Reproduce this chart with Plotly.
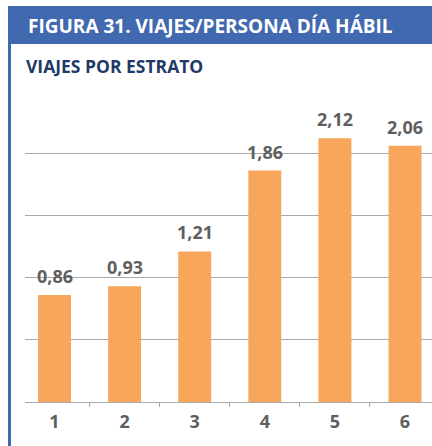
import plotly.graph_objects as go

# Trips per person on a working day, by socio-economic stratum
estratos = ["1", "2", "3", "4", "5", "6"]
viajes = [0.86, 0.93, 1.21, 1.86, 2.12, 2.06]
etiquetas = ["0,86", "0,93", "1,21", "1,86", "2,12", "2,06"]

W, H = 432, 446
ML, MR, MT, MB = 25, 0, 91, 44
PW, PH = W - ML - MR, H - MT - MB

BLUE = "#4169b0"
NAVY = "#1f3a68"
ORANGE = "#f7a65b"
GRAY_TXT = "#5f5f5f"
GRID = "#a9a9a9"
FONT = "Open Sans"


def px_x(px):
    return (px - ML) / PW


def px_y(py):
    return (H - MB - py) / PH


pos = list(range(len(estratos)))

fig = go.Figure(
    go.Bar(
        x=pos,
        y=viajes,
        width=0.47,
        marker=dict(color=ORANGE, line=dict(width=0)),
        hoverinfo="skip",
    )
)

# value labels above each bar
value_labels = [
    dict(x=p, y=v, text=t, xref="x", yref="y", xanchor="center",
         yanchor="bottom", yshift=5, showarrow=False,
         font=dict(family=FONT, size=18, color=GRAY_TXT, weight="bold"))
    for p, v, t in zip(pos, viajes, etiquetas)
]

fig.update_layout(
    width=W,
    height=H,
    margin=dict(l=ML, r=MR, t=MT, b=MB),
    paper_bgcolor="white",
    plot_bgcolor="white",
    showlegend=False,
    xaxis=dict(
        range=[-0.421, 5.385],
        tickmode="array",
        tickvals=pos,
        ticktext=estratos,
        ticks="",
        ticklabelstandoff=3,
        tickfont=dict(family=FONT, size=18, color=GRAY_TXT, weight="bold"),
        showgrid=False,
        zeroline=False,
        showline=True,
        linecolor=GRID,
        linewidth=1,
        minor=dict(
            tickmode="array",
            tickvals=[p + 0.5 for p in pos],
            ticks="outside",
            ticklen=4,
            tickcolor=GRID,
            tickwidth=1,
            showgrid=False,
        ),
        fixedrange=True,
    ),
    yaxis=dict(
        range=[0, 2.5],
        tickmode="array",
        tickvals=[0.5, 1.0, 1.5, 2.0],
        showticklabels=False,
        showgrid=True,
        gridcolor=GRID,
        gridwidth=1,
        zeroline=False,
        showline=False,
        fixedrange=True,
    ),
    shapes=[
        # header band
        dict(type="rect", xref="paper", yref="paper",
             x0=px_x(8), x1=px_x(W), y0=px_y(44), y1=px_y(6),
             fillcolor=BLUE, line=dict(width=0), layer="above"),
        # left rule
        dict(type="rect", xref="paper", yref="paper",
             x0=px_x(8), x1=px_x(11), y0=px_y(H), y1=px_y(44),
             fillcolor=BLUE, line=dict(width=0), layer="above"),
    ],
    annotations=value_labels + [
        dict(text="FIGURA 31. VIAJES/PERSONA DÍA HÁBIL",
             xref="paper", yref="paper", x=px_x(26), y=px_y(26),
             xanchor="left", yanchor="middle", showarrow=False,
             font=dict(family=FONT, size=19, color="white", weight="bold")),
        dict(text="VIAJES POR ESTRATO",
             xref="paper", yref="paper", x=px_x(24), y=px_y(66),
             xanchor="left", yanchor="middle", showarrow=False,
             font=dict(family=FONT, size=17.5, color=NAVY, weight="bold")),
    ],
)

fig.write_html("out.html")
